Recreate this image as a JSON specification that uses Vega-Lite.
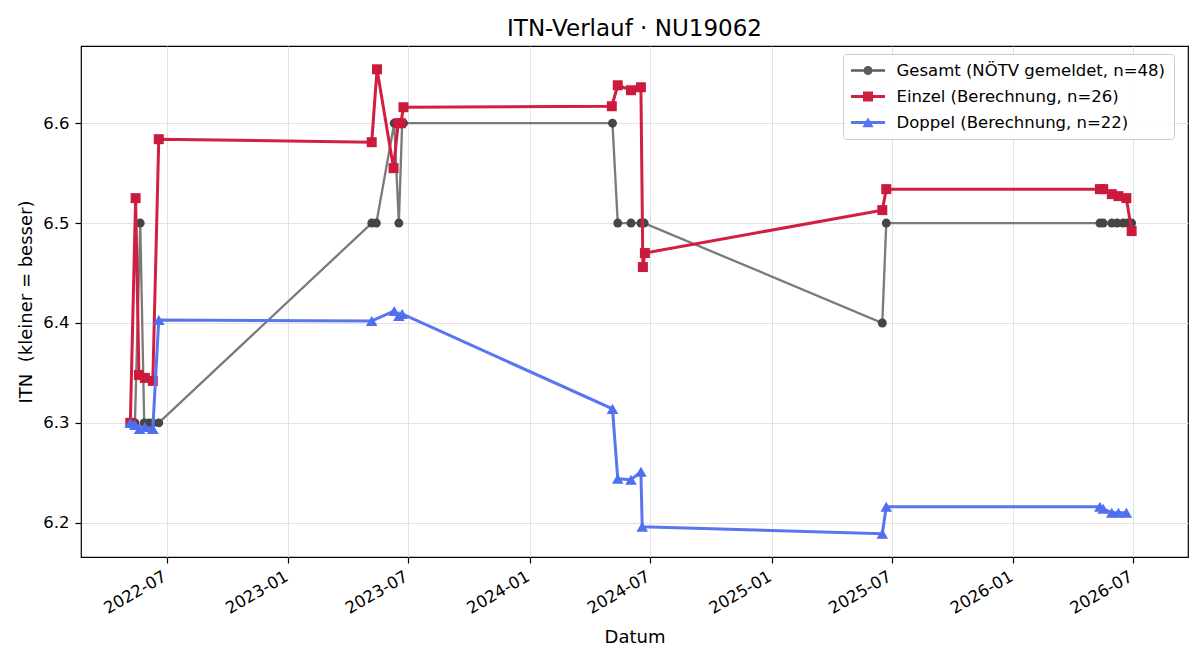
{
  "$schema": "https://vega.github.io/schema/vega-lite/v6.json",
  "width": 1107,
  "height": 511,
  "autosize": {"type": "none"},
  "padding": {"left": 81, "top": 46, "right": 12, "bottom": 103},
  "background": "white",
  "title": {"text": "ITN-Verlauf · NU19062", "fontSize": 23, "font": "DejaVu Sans", "fontWeight": "normal", "color": "black", "anchor": "middle", "offset": 5},
  "config": {
    "font": "DejaVu Sans",
    "view": {"stroke": "black", "strokeWidth": 1.2},
    "axis": {
      "domain": false,
      "tickColor": "black", "tickWidth": 1.2, "tickSize": 6,
      "labelFont": "DejaVu Sans", "labelFontSize": 16.5, "labelColor": "black",
      "titleFont": "DejaVu Sans", "titleFontSize": 18, "titleFontWeight": "normal", "titleColor": "black",
      "grid": true, "gridColor": "#e2e2e2", "gridWidth": 1
    }
  },
  "datasets": {
    "itn": [
      {"s": "Gesamt (NÖTV gemeldet, n=48)", "d": "2022-05-07", "v": 6.3},
      {"s": "Gesamt (NÖTV gemeldet, n=48)", "d": "2022-05-14", "v": 6.3},
      {"s": "Gesamt (NÖTV gemeldet, n=48)", "d": "2022-05-22", "v": 6.5},
      {"s": "Gesamt (NÖTV gemeldet, n=48)", "d": "2022-05-28", "v": 6.3},
      {"s": "Gesamt (NÖTV gemeldet, n=48)", "d": "2022-06-04", "v": 6.3},
      {"s": "Gesamt (NÖTV gemeldet, n=48)", "d": "2022-06-10", "v": 6.3},
      {"s": "Gesamt (NÖTV gemeldet, n=48)", "d": "2022-06-19", "v": 6.3},
      {"s": "Gesamt (NÖTV gemeldet, n=48)", "d": "2023-05-07", "v": 6.5},
      {"s": "Gesamt (NÖTV gemeldet, n=48)", "d": "2023-05-14", "v": 6.5},
      {"s": "Gesamt (NÖTV gemeldet, n=48)", "d": "2023-06-10", "v": 6.6},
      {"s": "Gesamt (NÖTV gemeldet, n=48)", "d": "2023-06-17", "v": 6.5},
      {"s": "Gesamt (NÖTV gemeldet, n=48)", "d": "2023-06-22", "v": 6.6},
      {"s": "Gesamt (NÖTV gemeldet, n=48)", "d": "2023-06-24", "v": 6.6},
      {"s": "Gesamt (NÖTV gemeldet, n=48)", "d": "2024-05-05", "v": 6.6},
      {"s": "Gesamt (NÖTV gemeldet, n=48)", "d": "2024-05-13", "v": 6.5},
      {"s": "Gesamt (NÖTV gemeldet, n=48)", "d": "2024-06-02", "v": 6.5},
      {"s": "Gesamt (NÖTV gemeldet, n=48)", "d": "2024-06-17", "v": 6.5},
      {"s": "Gesamt (NÖTV gemeldet, n=48)", "d": "2024-06-22", "v": 6.5},
      {"s": "Gesamt (NÖTV gemeldet, n=48)", "d": "2025-06-17", "v": 6.4},
      {"s": "Gesamt (NÖTV gemeldet, n=48)", "d": "2025-06-23", "v": 6.5},
      {"s": "Gesamt (NÖTV gemeldet, n=48)", "d": "2026-05-12", "v": 6.5},
      {"s": "Gesamt (NÖTV gemeldet, n=48)", "d": "2026-05-17", "v": 6.5},
      {"s": "Gesamt (NÖTV gemeldet, n=48)", "d": "2026-05-30", "v": 6.5},
      {"s": "Gesamt (NÖTV gemeldet, n=48)", "d": "2026-06-07", "v": 6.5},
      {"s": "Gesamt (NÖTV gemeldet, n=48)", "d": "2026-06-16", "v": 6.5},
      {"s": "Gesamt (NÖTV gemeldet, n=48)", "d": "2026-06-23", "v": 6.5},
      {"s": "Gesamt (NÖTV gemeldet, n=48)", "d": "2026-06-29", "v": 6.5},
      {"s": "Einzel (Berechnung, n=26)", "d": "2022-05-07", "v": 6.300},
      {"s": "Einzel (Berechnung, n=26)", "d": "2022-05-15", "v": 6.525},
      {"s": "Einzel (Berechnung, n=26)", "d": "2022-05-20", "v": 6.348},
      {"s": "Einzel (Berechnung, n=26)", "d": "2022-05-29", "v": 6.345},
      {"s": "Einzel (Berechnung, n=26)", "d": "2022-06-10", "v": 6.342},
      {"s": "Einzel (Berechnung, n=26)", "d": "2022-06-19", "v": 6.584},
      {"s": "Einzel (Berechnung, n=26)", "d": "2023-05-07", "v": 6.581},
      {"s": "Einzel (Berechnung, n=26)", "d": "2023-05-15", "v": 6.654},
      {"s": "Einzel (Berechnung, n=26)", "d": "2023-06-09", "v": 6.555},
      {"s": "Einzel (Berechnung, n=26)", "d": "2023-06-16", "v": 6.600},
      {"s": "Einzel (Berechnung, n=26)", "d": "2023-06-20", "v": 6.600},
      {"s": "Einzel (Berechnung, n=26)", "d": "2023-06-24", "v": 6.616},
      {"s": "Einzel (Berechnung, n=26)", "d": "2024-05-04", "v": 6.617},
      {"s": "Einzel (Berechnung, n=26)", "d": "2024-05-13", "v": 6.638},
      {"s": "Einzel (Berechnung, n=26)", "d": "2024-06-02", "v": 6.633},
      {"s": "Einzel (Berechnung, n=26)", "d": "2024-06-17", "v": 6.636},
      {"s": "Einzel (Berechnung, n=26)", "d": "2024-06-20", "v": 6.456},
      {"s": "Einzel (Berechnung, n=26)", "d": "2024-06-23", "v": 6.470},
      {"s": "Einzel (Berechnung, n=26)", "d": "2025-06-17", "v": 6.513},
      {"s": "Einzel (Berechnung, n=26)", "d": "2025-06-23", "v": 6.534},
      {"s": "Einzel (Berechnung, n=26)", "d": "2026-05-12", "v": 6.534},
      {"s": "Einzel (Berechnung, n=26)", "d": "2026-05-17", "v": 6.534},
      {"s": "Einzel (Berechnung, n=26)", "d": "2026-05-30", "v": 6.529},
      {"s": "Einzel (Berechnung, n=26)", "d": "2026-06-09", "v": 6.527},
      {"s": "Einzel (Berechnung, n=26)", "d": "2026-06-21", "v": 6.525},
      {"s": "Einzel (Berechnung, n=26)", "d": "2026-06-29", "v": 6.492},
      {"s": "Doppel (Berechnung, n=22)", "d": "2022-05-07", "v": 6.300},
      {"s": "Doppel (Berechnung, n=22)", "d": "2022-05-14", "v": 6.298},
      {"s": "Doppel (Berechnung, n=22)", "d": "2022-05-21", "v": 6.294},
      {"s": "Doppel (Berechnung, n=22)", "d": "2022-05-29", "v": 6.296},
      {"s": "Doppel (Berechnung, n=22)", "d": "2022-06-10", "v": 6.294},
      {"s": "Doppel (Berechnung, n=22)", "d": "2022-06-19", "v": 6.403},
      {"s": "Doppel (Berechnung, n=22)", "d": "2023-05-07", "v": 6.402},
      {"s": "Doppel (Berechnung, n=22)", "d": "2023-06-10", "v": 6.412},
      {"s": "Doppel (Berechnung, n=22)", "d": "2023-06-17", "v": 6.407},
      {"s": "Doppel (Berechnung, n=22)", "d": "2023-06-22", "v": 6.409},
      {"s": "Doppel (Berechnung, n=22)", "d": "2024-05-05", "v": 6.314},
      {"s": "Doppel (Berechnung, n=22)", "d": "2024-05-13", "v": 6.244},
      {"s": "Doppel (Berechnung, n=22)", "d": "2024-06-02", "v": 6.243},
      {"s": "Doppel (Berechnung, n=22)", "d": "2024-06-17", "v": 6.251},
      {"s": "Doppel (Berechnung, n=22)", "d": "2024-06-19", "v": 6.196},
      {"s": "Doppel (Berechnung, n=22)", "d": "2025-06-17", "v": 6.189},
      {"s": "Doppel (Berechnung, n=22)", "d": "2025-06-23", "v": 6.216},
      {"s": "Doppel (Berechnung, n=22)", "d": "2026-05-12", "v": 6.216},
      {"s": "Doppel (Berechnung, n=22)", "d": "2026-05-17", "v": 6.214},
      {"s": "Doppel (Berechnung, n=22)", "d": "2026-05-30", "v": 6.210},
      {"s": "Doppel (Berechnung, n=22)", "d": "2026-06-09", "v": 6.210},
      {"s": "Doppel (Berechnung, n=22)", "d": "2026-06-21", "v": 6.210}
    ]
  },
  "data": {"name": "itn"},
  "encoding": {
    "x": {
      "field": "d", "type": "temporal",
      "scale": {"type": "utc", "domain": [
        {"year": 2022, "month": 2, "date": 21, "hours": 10, "utc": true},
        {"year": 2026, "month": 9, "date": 22, "hours": 5, "utc": true}
      ]},
      "axis": {
        "title": "Datum",
        "format": "%Y-%m",
        "values": [
          {"year": 2022, "month": 7, "date": 1, "utc": true},
          {"year": 2023, "month": 1, "date": 1, "utc": true},
          {"year": 2023, "month": 7, "date": 1, "utc": true},
          {"year": 2024, "month": 1, "date": 1, "utc": true},
          {"year": 2024, "month": 7, "date": 1, "utc": true},
          {"year": 2025, "month": 1, "date": 1, "utc": true},
          {"year": 2025, "month": 7, "date": 1, "utc": true},
          {"year": 2026, "month": 1, "date": 1, "utc": true},
          {"year": 2026, "month": 7, "date": 1, "utc": true}
        ],
        "labelAngle": -30, "labelAlign": "right", "labelBaseline": "top",
        "labelPadding": 5, "labelOffset": -6, "titlePadding": 12, "labelOverlap": false
      }
    },
    "y": {
      "field": "v", "type": "quantitative",
      "scale": {"domain": [6.1657, 6.6773], "nice": false, "zero": false},
      "axis": {"title": "ITN\u00a0 (kleiner = besser)", "values": [6.2, 6.3, 6.4, 6.5, 6.6], "format": ".1f", "labelPadding": 6, "titlePadding": 7}
    }
  },
  "layer": [
    {"transform": [{"filter": {"field": "s", "equal": "Gesamt (NÖTV gemeldet, n=48)"}}],
     "mark": {"type": "line", "color": "#7a7a7a", "strokeWidth": 2.3}},
    {"transform": [{"filter": {"field": "s", "equal": "Gesamt (NÖTV gemeldet, n=48)"}}],
     "mark": {"type": "point", "shape": "circle", "filled": true, "color": "#454545", "opacity": 1, "size": 80, "strokeWidth": 0}},
    {"transform": [{"filter": {"field": "s", "equal": "Einzel (Berechnung, n=26)"}}],
     "mark": {"type": "line", "color": "#d01f40", "strokeWidth": 3}},
    {"transform": [{"filter": {"field": "s", "equal": "Einzel (Berechnung, n=26)"}}],
     "mark": {"type": "point", "shape": "square", "filled": true, "color": "#cc1a3c", "opacity": 1, "size": 100, "strokeWidth": 0}},
    {"transform": [{"filter": {"field": "s", "equal": "Doppel (Berechnung, n=22)"}}],
     "mark": {"type": "line", "color": "#5876f0", "strokeWidth": 3}},
    {"transform": [{"filter": {"field": "s", "equal": "Doppel (Berechnung, n=22)"}}],
     "mark": {"type": "point", "shape": "triangle-up", "filled": true, "color": "#4f6ef0", "opacity": 1, "size": 135, "strokeWidth": 0}},
    {"mark": {"type": "point", "filled": true, "size": 0, "strokeWidth": 0, "opacity": 1},
     "encoding": {
       "color": {"field": "s", "type": "nominal",
         "scale": {"domain": ["Gesamt (NÖTV gemeldet, n=48)", "Einzel (Berechnung, n=26)", "Doppel (Berechnung, n=22)"], "range": ["#5c5c5c", "#d01f40", "#5876f0"]},
         "legend": {"title": null, "orient": "none", "legendX": 762, "legendY": 8, "symbolSize": 289, "symbolOpacity": 1, "symbolStrokeWidth": 0,
           "labelFont": "DejaVu Sans", "labelFontSize": 16.5, "labelColor": "black", "labelOffset": 20, "labelLimit": 500, "rowPadding": 9, "padding": 8,
           "strokeColor": "#cccccc", "fillColor": "rgba(255,255,255,0.85)", "cornerRadius": 3, "symbolOffset": 8.5}},
       "shape": {"field": "s", "type": "nominal",
         "scale": {"domain": ["Gesamt (NÖTV gemeldet, n=48)", "Einzel (Berechnung, n=26)", "Doppel (Berechnung, n=22)"],
           "range": [
             "M-2,-0.135L2,-0.135L2,0.135L-2,0.135ZM0.53,0A0.53,0.53,0,1,1,-0.53,0A0.53,0.53,0,1,1,0.53,0Z",
             "M-2,-0.176L2,-0.176L2,0.176L-2,0.176ZM-0.59,-0.59L0.59,-0.59L0.59,0.59L-0.59,0.59Z",
             "M-2,-0.176L2,-0.176L2,0.176L-2,0.176ZM0,-0.6L0.66,0.56L-0.66,0.56Z"
           ]}}
     }}
  ]
}
